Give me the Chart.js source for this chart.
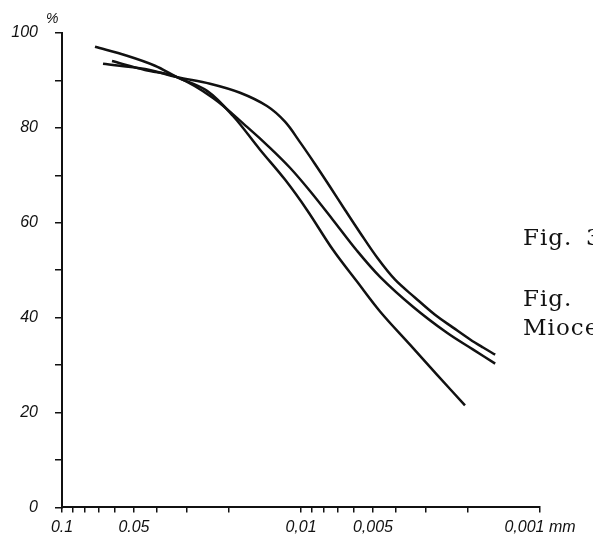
<!DOCTYPE html>
<html>
<head>
<meta charset="utf-8">
<script src="https://cdn.jsdelivr.net/npm/chart.js@4"></script>
<style>
html, body { margin: 0; padding: 0; background: #fff; }
canvas { display: block; }
</style>
</head>
<body>
<canvas id="grain-chart" width="593" height="534"></canvas>
<script>
/**
 *  Grain size distribution curves (grain size in mm, cumulative %)
 */
var sizesA = [0.06736, 0.04495, 0.03303, 0.02403, 0.01799, 0.01388, 0.01167, 0.01010, 0.00874, 0.00756, 0.00654, 0.00566, 0.00476, 0.00404, 0.00333, 0.00275, 0.00231, 0.00196, 0.00173, 0.00154];
var percentA = [93.5, 92.4, 90.7, 89.3, 87.4, 84.6, 81.3, 77.0, 72.4, 67.6, 62.7, 57.9, 52.4, 48.0, 44.2, 40.6, 37.9, 35.4, 33.7, 32.2];

var sizesB = [0.06177, 0.04495, 0.03303, 0.02334, 0.01682, 0.01348, 0.01112, 0.00917, 0.00735, 0.00583, 0.00467, 0.00340, 0.00245, 0.00191, 0.00154];
var percentB = [94.1, 92.2, 90.7, 86.3, 80.2, 75.8, 71.6, 66.7, 60.6, 54.1, 48.6, 42.3, 36.8, 33.3, 30.3];

var sizesC = [0.07277, 0.05346, 0.04083, 0.03303, 0.02473, 0.01925, 0.01484, 0.01167, 0.00944, 0.00735, 0.00583, 0.00467, 0.00350, 0.00270, 0.00206];
var percentC = [97.1, 95.2, 93.1, 90.7, 87.8, 82.5, 75.4, 69.1, 62.7, 54.3, 47.6, 41.3, 34.3, 28.0, 21.5];

/**
 *  Axis ticks
 */
var xTickValues = [0.1, 0.09, 0.08, 0.07, 0.06, 0.05, 0.04, 0.03, 0.02, 0.01, 0.009, 0.008, 0.007, 0.006, 0.005, 0.004, 0.003, 0.002, 0.001];
var xLabelValues = [0.1, 0.05, 0.01, 0.005, 0.001];
var xLabelTexts = ['0.1', '0.05', '0,01', '0,005', '0,001 mm'];
var yLabelValues = [0, 20, 40, 60, 80, 100];

function toPoints(sizes, percents)
{
    return sizes.map(function (s, i) {
        return { x: s, y: percents[i] };
    });
}

/**
 *  Extra texts: unit sign and the cut caption on the right
 */
var figureText = {
    id: 'figureText',
    afterDraw: function (chart) {
        var c = chart.ctx;
        c.save();
        c.fillStyle = '#111';
        c.textBaseline = 'alphabetic';
        c.font = 'italic 14px "Liberation Sans"';
        c.fillText('%', 46, 23);
        c.font = '23px "DejaVu Serif"';
        c.letterSpacing = '1px';
        c.fillText('Fig.', 523, 245);
        c.fillText('3', 586, 245);
        c.fillText('Fig.', 523, 306);
        c.fillText('Miocene', 523, 335);
        c.restore();
    }
};

var inkColor = '#111';
var tickFont = { family: 'Liberation Sans', size: 16, style: 'italic' };

var ctx = document.getElementById('grain-chart').getContext('2d');
var grainChart = new Chart(ctx, {
    type: 'line',
    data: {
        datasets: [
        {
            data: toPoints(sizesA, percentA),
            borderColor: inkColor
        },
        {
            data: toPoints(sizesB, percentB),
            borderColor: inkColor
        },
        {
            data: toPoints(sizesC, percentC),
            borderColor: inkColor
        }
        ]
    },
    options: {
        responsive: false,
        animation: false,
        layout: {
            padding: { top: 33, right: 53, left: 0, bottom: 0 }
        },
        plugins: {
            legend: { display: false },
            tooltip: { enabled: false }
        },
        elements: {
            point: { radius: 0 },
            line: { borderWidth: 2.5, tension: 0.35, fill: false, capBezierPoints: true }
        },
        scales: {
            x: {
                type: 'logarithmic',
                reverse: true,
                min: 0.001,
                max: 0.1,
                afterBuildTicks: function (scale) {
                    scale.ticks = xTickValues.map(function (v) { return { value: v }; });
                },
                afterFit: function (scale) {
                    scale.height = 26;
                },
                grid: {
                    drawOnChartArea: false,
                    drawTicks: true,
                    tickLength: 5,
                    color: inkColor,
                    lineWidth: 1.5
                },
                border: { display: true, color: inkColor, width: 2 },
                ticks: {
                    autoSkip: false,
                    maxRotation: 0,
                    padding: 6,
                    color: inkColor,
                    font: tickFont,
                    callback: function (value) {
                        var i = xLabelValues.indexOf(value);
                        return i >= 0 ? xLabelTexts[i] : '';
                    }
                }
            },
            y: {
                min: 0,
                max: 100,
                afterFit: function (scale) {
                    scale.width = 62;
                },
                grid: {
                    drawOnChartArea: false,
                    drawTicks: true,
                    tickLength: 7,
                    color: inkColor,
                    lineWidth: 1.5
                },
                border: { display: true, color: inkColor, width: 2 },
                ticks: {
                    stepSize: 10,
                    padding: 17,
                    color: inkColor,
                    font: tickFont,
                    callback: function (value) {
                        return yLabelValues.indexOf(value) >= 0 ? String(value) : '';
                    }
                }
            }
        }
    },
    plugins: [figureText]
});
</script>
</body>
</html>
